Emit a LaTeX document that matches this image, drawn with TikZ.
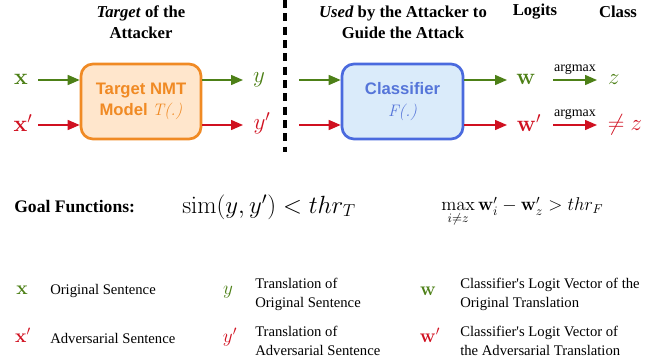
\documentclass[tikz,border=0pt]{standalone}
\usepackage{amsmath}
\usepackage[no-math]{fontspec}
\setmainfont{Liberation Serif}
\setsansfont{Liberation Sans}
\newfontfamily\lmr{Latin Modern Roman}
\usetikzlibrary{arrows.meta}
\definecolor{cgreen}{RGB}{77,128,23}
\definecolor{cred}{RGB}{208,16,32}
\definecolor{corange}{RGB}{240,138,36}
\definecolor{corangefill}{RGB}{255,230,204}
\definecolor{cblue}{RGB}{74,106,222}
\definecolor{cbluefill}{RGB}{218,235,250}
\definecolor{cbluetext}{RGB}{85,117,217}
\tikzset{
  arr/.style={line width=1.1pt,-{Triangle[length=9pt,width=7.5pt]}},
  garr/.style={arr,draw=cgreen},
  rarr/.style={arr,draw=cred},
  modelbox/.style={rounded corners=9pt,line width=2pt,minimum width=90pt,minimum height=56.25pt,
     align=center,font=\sffamily\bfseries\fontsize{12.5}{16}\selectfont},
  titletxt/.style={align=center,font=\bfseries\fontsize{12.5}{15.5}\selectfont},
  sym/.style={font=\fontsize{17.28}{19}\selectfont},
  lsym/.style={font=\fontsize{14.4}{16}\selectfont},
  lgtxt/.style={anchor=west,align=left,inner sep=0pt,font=\fontsize{11}{14.25}\selectfont},
  argtxt/.style={font=\fontsize{10.5}{12}\selectfont,above,inner sep=3.5pt},
}
\begin{document}
\begin{tikzpicture}[x=0.75pt,y=-0.75pt]
\useasboundingbox (0,0) rectangle (662,364);
% titles
\node[titletxt] (t1) at (141,22) {\textit{Target} of the\\Attacker};
\node[titletxt] (t2) at (403,22) {\textit{Used} by the Attacker to\\Guide the Attack};
\node[titletxt] (t3) at (535,12) {Logits};
\node[titletxt] (t4) at (618,12) {Class};
% divider
\coordinate (d1) at (285,0);
\coordinate (d2) at (285,152);
\draw[line width=2.5pt,dash pattern=on 6pt off 4pt] (d1) -- (d2);
% target model
\node[modelbox,draw=corange,fill=corangefill,text=corange] (T) at (141,101.5)
  {Target NMT\\Model {\lmr\itshape\mdseries T(.)}};
\node[sym,text=cgreen] (x) at (21,79) {$\mathbf{x}$};
\node[sym,text=cred] (xp) at (23,123) {$\mathbf{x}'$};
\node[sym,text=cgreen] (y) at (259,80) {$y$};
\node[sym,text=cred] (yp) at (262,123) {$y'$};
\coordinate (xs) at (38,80);
\coordinate (xps) at (38,125);
\coordinate (ye) at (243,80);
\coordinate (ype) at (243,125);
\draw[garr] (xs) -- (xs -| T.west);
\draw[rarr] (xps) -- (xps -| T.west);
\draw[garr] (ye -| T.east) -- (ye);
\draw[rarr] (ype -| T.east) -- (ype);
% classifier
\node[modelbox,draw=cblue,fill=cbluefill,text=cbluetext,minimum width=90.75pt] (F) at (402.5,101.5)
  {Classifier\\{\lmr\itshape\mdseries F(.)}};
\coordinate (cs) at (299,80);
\coordinate (cps) at (299,125);
\coordinate (we) at (507,80);
\coordinate (wpe) at (507,125);
\draw[garr] (cs) -- (cs -| F.west);
\draw[rarr] (cps) -- (cps -| F.west);
\draw[garr] (we -| F.east) -- (we);
\draw[rarr] (wpe -| F.east) -- (wpe);
\node[sym,text=cgreen] (w) at (526,79) {$\mathbf{w}$};
\node[sym,text=cred] (wp) at (529,123) {$\mathbf{w}'$};
\coordinate (as) at (553,80);
\coordinate (ae) at (597,80);
\coordinate (aps) at (553,125);
\coordinate (ape) at (597,125);
\draw[garr] (as) -- node[argtxt] {argmax} (ae);
\draw[rarr] (aps) -- node[argtxt] {argmax} (ape);
\node[sym,text=cgreen] (z) at (614,80) {$z$};
\node[sym,text=cred] (nz) at (625,125) {$\neq z$};
% goal functions
\node[anchor=west,inner sep=0pt,font=\bfseries\fontsize{13.2}{15}\selectfont] (g) at (14,207) {Goal Functions:};
\node[font=\fontsize{17.28}{19}\selectfont,scale=1.08,anchor=west,inner sep=0pt] (g1) at (182,207) {$\operatorname{sim}(y,y') < thr_T$};
\node[font=\fontsize{14.4}{17}\selectfont,scale=0.965,anchor=west,inner sep=0pt] (g2) at (441,212) {$\max\limits_{i\neq z}\mathbf{w}'_i - \mathbf{w}'_z > thr_F$};
% legend
\node[lsym,text=cgreen] (l1) at (22,290) {$\mathbf{x}$};
\node[lgtxt] (l1t) at (50,291) {Original Sentence};
\node[lsym,text=cred] (l2) at (23,335) {$\mathbf{x}'$};
\node[lgtxt] (l2t) at (50,338) {Adversarial Sentence};
\node[lsym,text=cgreen] (l3) at (228,292) {$y$};
\node[lgtxt] (l3t) at (255,294) {Translation of\\Original Sentence};
\node[lsym,text=cred] (l4) at (230,337) {$y'$};
\node[lgtxt] (l4t) at (255,341) {Translation of\\Adversarial Sentence};
\node[lsym,text=cgreen] (l5) at (428,291) {$\mathbf{w}$};
\node[lgtxt] (l5t) at (460,294) {Classifier\textquotesingle s Logit Vector of the\\Original Translation};
\node[lsym,text=cred] (l6) at (430,335) {$\mathbf{w}'$};
\node[lgtxt] (l6t) at (460,341) {Classifier\textquotesingle s Logit Vector of\\the Adversarial Translation};
\end{tikzpicture}
\end{document}
